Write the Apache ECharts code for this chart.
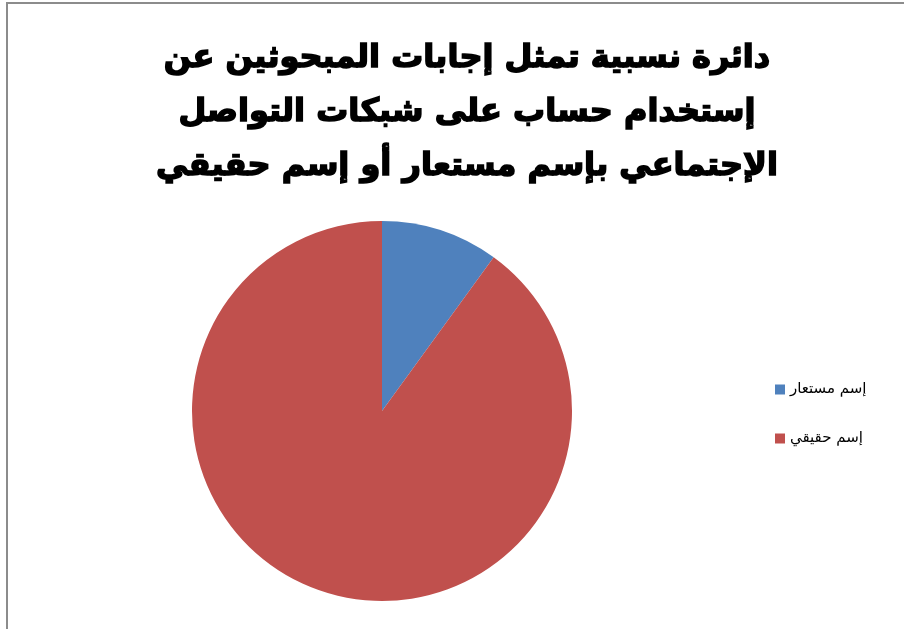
<!DOCTYPE html>
<html>
<head>
<meta charset="utf-8">
<script src="https://cdn.jsdelivr.net/npm/echarts@6/dist/echarts.min.js"></script>
<style>
  html, body { margin: 0; padding: 0; background: #fff; }
  #frame { position: absolute; left: 6px; top: 2px; width: 904px; height: 640px;
           border-left: 2px solid #8c8c8c; border-top: 2px solid #8c8c8c; }
  #chart { position: absolute; left: 0; top: 0; width: 904px; height: 629px; }
</style>
</head>
<body>
<div id="frame"></div>
<div id="chart"></div>
<script>
// Response categories and their shares (percent)
const categories = ['إسم مستعار', 'إسم حقيقي'];
const shares = [10, 90];
const sliceColors = ['#4F81BD', '#C0504D'];
const titleLines = [
  'دائرة نسبية تمثل إجابات المبحوثين عن',
  'إستخدام حساب على شبكات التواصل',
  'الإجتماعي بإسم مستعار أو إسم حقيقي'
];

const chart = echarts.init(document.getElementById('chart'), null, { renderer: 'canvas' });
chart.setOption({
  animation: false,
  color: sliceColors,
  title: {
    text: titleLines.join('\n'),
    left: 462,
    top: 27,
    textAlign: 'center',
    textStyle: {
      fontFamily: 'DejaVu Sans',
      fontWeight: 'bold',
      fontSize: 32,
      lineHeight: 54,
      color: '#000',
      textBorderColor: '#000',
      textBorderWidth: 1.6
    }
  },
  legend: {
    orient: 'vertical',
    left: 770,
    top: 377,
    itemWidth: 10,
    itemHeight: 10,
    itemGap: 34,
    icon: 'rect',
    textStyle: { fontFamily: 'DejaVu Sans', fontSize: 15, color: '#000' },
    data: categories
  },
  series: [{
    type: 'pie',
    center: [382, 411],
    radius: 190,
    startAngle: 90,
    clockwise: true,
    label: { show: false },
    labelLine: { show: false },
    emphasis: { disabled: true },
    data: categories.map((name, i) => ({ name, value: shares[i] }))
  }]
});
</script>
</body>
</html>
